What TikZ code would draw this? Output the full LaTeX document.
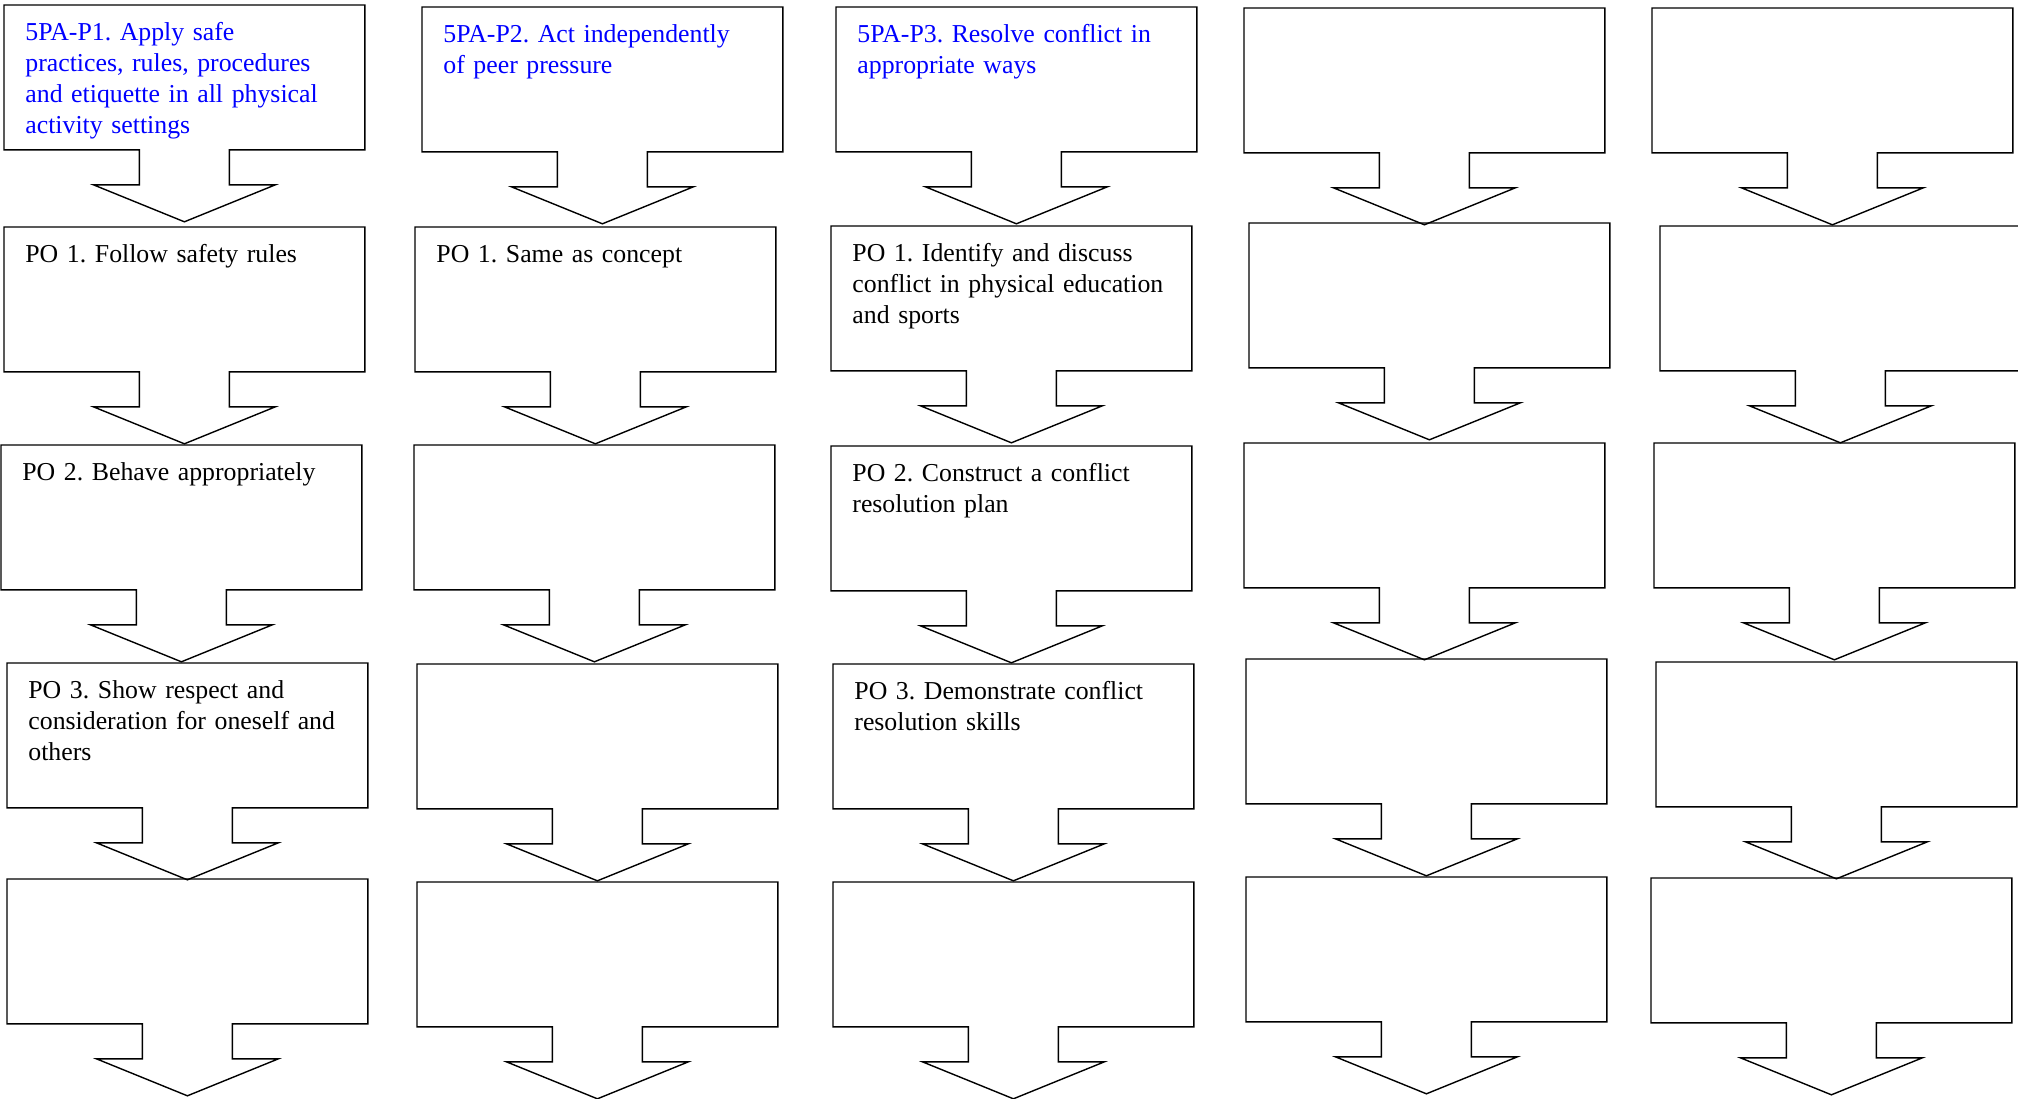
\documentclass[tikz,border=0pt]{standalone}
\usepackage{fontspec}
\setmainfont{Liberation Serif}
\usepackage{tikz}
\usetikzlibrary{positioning}
\usetikzlibrary{calc}

\newcommand{\pofont}{\fontsize{12.9}{15.5}\selectfont\frenchspacing\hyphenpenalty=10000\relax}
\tikzset{
  pobox/.style={anchor=north west, inner xsep=10.5pt, inner ysep=0pt,
    text width=159pt, text height=17.5pt, text depth=54.5pt, align=left,
    font=\pofont},
  goalbox/.style={pobox, text=blue},
  callout/.style={line width=0.7pt, line join=miter},
}

\begin{document}
\begin{tikzpicture}[x=0.5pt, y=-0.5pt]
\useasboundingbox (0,0) rectangle (2018,1098);
% -- column 1: 5PA-P1 --
\node[goalbox] (c11) at (4,5) {5PA-P1. Apply safe\\practices, rules, procedures\\and etiquette in all physical\\activity settings};
\node[pobox] (c12) at (4,227) {PO 1. Follow safety rules};
\node[pobox] (c13) at (1,445) {PO 2. Behave appropriately};
\node[pobox] (c14) at (7,663) {PO 3. Show respect and\\consideration for oneself and\\others};
\node[pobox] (c15) at (7,879) {};
% -- column 2: 5PA-P2 --
\node[goalbox] (c21) at (422,7) {5PA-P2. Act independently\\of peer pressure};
\node[pobox] (c22) at (415,227) {PO 1. Same as concept};
\node[pobox] (c23) at (414,445) {};
\node[pobox] (c24) at (417,664) {};
\node[pobox] (c25) at (417,882) {};
% -- column 3: 5PA-P3 --
\node[goalbox] (c31) at (836,7) {5PA-P3. Resolve conflict in\\appropriate ways};
\node[pobox] (c32) at (831,226) {PO 1. Identify and discuss\\conflict in physical education\\and sports};
\node[pobox] (c33) at (831,446) {PO 2. Construct a conflict\\resolution plan};
\node[pobox] (c34) at (833,664) {PO 3. Demonstrate conflict\\resolution skills};
\node[pobox] (c35) at (833,882) {};
% -- column 4: empty --
\node[pobox] (c41) at (1244,8) {};
\node[pobox] (c42) at (1249,223) {};
\node[pobox] (c43) at (1244,443) {};
\node[pobox] (c44) at (1246,659) {};
\node[pobox] (c45) at (1246,877) {};
% -- column 5: empty --
\node[pobox] (c51) at (1652,8) {};
\node[pobox] (c52) at (1660,226) {};
\node[pobox] (c53) at (1654,443) {};
\node[pobox] (c54) at (1656,662) {};
\node[pobox] (c55) at (1651,878) {};
% -- down arrow callouts round every box --
\foreach \i in {1,...,5}
  \foreach \j in {1,...,5}
    \draw[callout] (c\i\j.south west) -- (c\i\j.north west) -- (c\i\j.north east) -- (c\i\j.south east)
      -- ($(c\i\j.south)+(45,0)$) -- ++(0,35) -- ++(46,0) -- ($(c\i\j.south)+(0,72)$)
      -- ($(c\i\j.south)+(-91,35)$) -- ++(46,0) -- ++(0,-35) -- cycle;
\end{tikzpicture}
\end{document}
